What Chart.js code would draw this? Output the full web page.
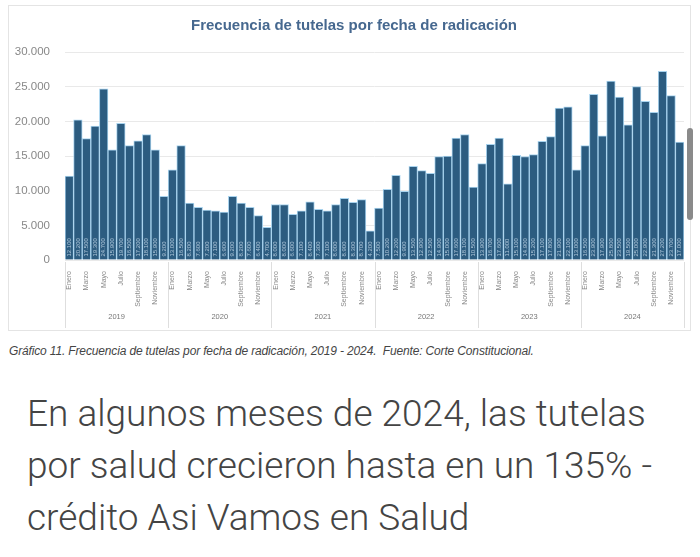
<!DOCTYPE html>
<html>
<head>
<meta charset="utf-8">
<script src="https://cdn.jsdelivr.net/npm/chart.js@4"></script>
<style>
  html, body { margin: 0; padding: 0; background: #fff; }
  body { width: 700px; height: 557px; position: relative; overflow: hidden; }
  #card { position: absolute; left: 8px; top: 5px; width: 681px; height: 324px; border: 1px solid #e4e4e4; }
  #wrap { position: absolute; left: 0; top: 0; width: 700px; height: 330px; }
  #titulo { position: absolute; left: 0; top: 16px; width: 708px; text-align: center; font: bold 15px "Liberation Sans", Arial, sans-serif; line-height: 18px; color: #46688f; }
  #scroll { position: absolute; left: 687px; top: 128px; width: 6px; height: 92px; border-radius: 3px; background: #8a8a8a; }
  #caption { position: absolute; left: 9px; top: 344px; font: italic 12px "Liberation Sans", Arial, sans-serif; color: #444; letter-spacing: -0.15px; white-space: nowrap; }
  #texto { position: absolute; left: 27px; top: 388px; width: 680px; font: 300 37px Roboto, sans-serif; line-height: 52px; color: #444; white-space: nowrap; }
</style>
</head>
<body>
<div id="card"></div>
<div id="wrap"><canvas id="tutelasChart"></canvas></div>
<div id="titulo">Frecuencia de tutelas por fecha de radicación</div>
<div id="scroll"></div>
<div id="caption">Gráfico 11. Frecuencia de tutelas por fecha de radicación, 2019 - 2024.&nbsp; Fuente: Corte Constitucional.</div>
<div id="texto">En algunos meses de 2024, las tutelas<br>por salud crecieron hasta en un 135% -<br>crédito Asi Vamos en Salud</div>
<script>
// datos (tutelas por mes)
const anios = ['2019', '2020', '2021', '2022', '2023', '2024'];
const meses = ['Enero', 'Febrero', 'Marzo', 'Abril', 'Mayo', 'Junio', 'Julio', 'Agosto', 'Septiembre', 'Octubre', 'Noviembre', 'Diciembre'];
const v2019 = [12100, 20200, 17500, 19300, 24700, 15900, 19700, 16500, 17200, 18100, 15900, 9200];
const v2020 = [13000, 16500, 8200, 7600, 7200, 7100, 6900, 9200, 8200, 7600, 6400, 4700];
const v2021 = [8000, 8000, 6600, 7100, 8400, 7300, 7100, 8000, 8900, 8300, 8700, 4200];
const v2022 = [7500, 10200, 12200, 9900, 13500, 12900, 12500, 14900, 15000, 17600, 18100, 10500];
const v2023 = [13900, 16700, 17600, 11000, 15100, 14900, 15200, 17100, 17800, 21900, 22100, 13000];
const v2024 = [16500, 23900, 17900, 25800, 23500, 19500, 25000, 22900, 21300, 27200, 23700, 17000];
const yTicks = [0, 5000, 10000, 15000, 20000, 25000, 30000];

const valores = [].concat(v2019, v2020, v2021, v2022, v2023, v2024);
const etiquetas = [];
anios.forEach(a => meses.forEach(m => etiquetas.push(m)));

function formato(n) {
    return String(n).replace(/\B(?=(\d{3})+(?!\d))/g, '.');
}

// etiquetas blancas dentro de cada barra
const etiquetasBarras = {
    id: 'etiquetasBarras',
    afterDatasetsDraw(chart) {
        const ctx = chart.ctx;
        const meta = chart.getDatasetMeta(0);
        ctx.save();
        ctx.fillStyle = 'rgba(215,232,245,0.75)';
        ctx.font = '6px "Liberation Sans", Arial, sans-serif';
        ctx.textAlign = 'left';
        ctx.textBaseline = 'middle';
        meta.data.forEach((bar, i) => {
            ctx.save();
            ctx.translate(bar.x, bar.base - 3);
            ctx.rotate(-Math.PI / 2);
            ctx.fillText(formato(valores[i]), 0, 0);
            ctx.restore();
        });
        ctx.restore();
    }
};

// años y separadores bajo el eje x
const ejeAnios = {
    id: 'ejeAnios',
    afterDraw(chart) {
        const ctx = chart.ctx;
        const x = chart.scales.x;
        const paso = x.getPixelForValue(1) - x.getPixelForValue(0);
        const y0 = chart.chartArea.bottom + 2;
        ctx.save();
        ctx.strokeStyle = '#dedede';
        ctx.lineWidth = 1;
        for (let i = 0; i <= anios.length; i++) {
            const px = Math.round(x.getPixelForValue(i * 12) - paso / 2) + 0.5;
            ctx.beginPath();
            ctx.moveTo(px, y0);
            ctx.lineTo(px, y0 + 66);
            ctx.stroke();
        }
        ctx.fillStyle = '#777';
        ctx.font = '7.5px "Liberation Sans", Arial, sans-serif';
        ctx.textAlign = 'center';
        ctx.textBaseline = 'middle';
        anios.forEach((a, i) => {
            const cx = (x.getPixelForValue(i * 12) + x.getPixelForValue(i * 12 + 11)) / 2;
            ctx.fillText(a, cx, y0 + 55);
        });
        ctx.restore();
    }
};

const ctx = document.getElementById('tutelasChart').getContext('2d');
new Chart(ctx, {
    type: 'bar',
    data: {
        labels: etiquetas,
        datasets: [{
            data: valores,
            backgroundColor: '#2c5c80',
            borderColor: '#a8d3ee',
            borderWidth: 1,
            barPercentage: 1,
            categoryPercentage: 1
        }]
    },
    options: {
        responsive: true,
        maintainAspectRatio: false,
        animation: false,
        layout: { padding: { left: 0, right: 16, top: 52, bottom: 0 } },
        plugins: {
            legend: { display: false },
            tooltip: { enabled: false }
        },
        scales: {
            x: {
                grid: { display: false },
                border: { display: false },
                afterFit(scale) { scale.height = 70; },
                ticks: {
                    autoSkip: false,
                    maxRotation: 90,
                    minRotation: 90,
                    padding: 3,
                    color: '#888',
                    font: { family: '"Liberation Sans", Arial, sans-serif', size: 7 },
                    callback: function(val, i) { return i % 2 === 0 ? etiquetas[i] : ''; }
                }
            },
            y: {
                min: 0,
                max: 30000,
                afterFit(scale) { scale.width = 65; },
                afterBuildTicks(scale) { scale.ticks = yTicks.map(v => ({ value: v })); },
                grid: { color: '#e9e9e9', drawTicks: false },
                border: { display: false },
                ticks: {
                    padding: 15,
                    color: '#888',
                    font: { family: '"Liberation Sans", Arial, sans-serif', size: 11.5 },
                    callback: v => formato(v)
                }
            }
        }
    },
    plugins: [etiquetasBarras, ejeAnios]
});
</script>
</body>
</html>
